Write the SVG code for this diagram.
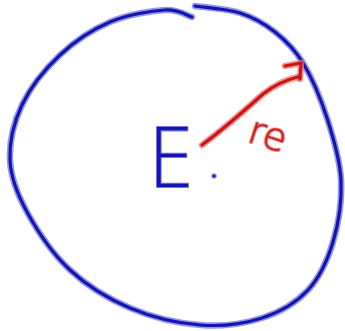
<svg xmlns="http://www.w3.org/2000/svg" width="345" height="331" viewBox="0 0 345 331">
<style>
.halo-b{fill:none;stroke:#7777e0;stroke-width:6.5;stroke-linecap:round;stroke-linejoin:round;opacity:0.75}
.core-b{fill:none;stroke:#1414b0;stroke-width:3.2;stroke-linecap:round;stroke-linejoin:round}
.halo-r{fill:none;stroke:#e87a7a;stroke-width:6.5;stroke-linecap:round;stroke-linejoin:round;opacity:0.75}
.core-r{fill:none;stroke:#cc1414;stroke-width:3.2;stroke-linecap:round;stroke-linejoin:round}
.lbl-b{font-family:"DejaVu Sans","Liberation Sans",sans-serif;font-weight:200;fill:#1414b0;stroke:#7777e0;stroke-width:2.2;paint-order:stroke;stroke-linejoin:round}
.lbl-r{font-family:"DejaVu Sans","Liberation Sans",sans-serif;font-weight:200;fill:#cc1414;stroke:#e87a7a;stroke-width:2.2;paint-order:stroke;stroke-linejoin:round}
</style>
<rect width="345" height="331" fill="#ffffff"/>
<g id="sphere">
<path class="halo-b" d="M195,6 C202.5,7.2 226.7,8.7 240,13 C253.3,17.3 264.5,23.7 275,32 C285.5,40.3 294.3,48.7 303,63 C311.7,77.3 320.7,98.5 327,118 C333.3,137.5 340,159.3 341,180 C342,200.7 338.5,223.7 333,242 C327.5,260.3 319.8,277.3 308,290 C296.2,302.7 280,312.2 262,318 C244,323.8 222,326.7 200,325 C178,323.3 151.7,317.2 130,308 C108.3,298.8 87.2,286 70,270 C52.8,254 37,230.3 27,212 C17,193.7 10.8,177.8 10,160 C9.2,142.2 13.7,122.5 22,105 C30.3,87.5 45.3,68.8 60,55 C74.7,41.2 92.5,29.5 110,22 C127.5,14.5 151.3,10.8 165,10 C178.7,9.2 187.5,15.8 192,17"/>
<path class="core-b" d="M195,6 C202.5,7.2 226.7,8.7 240,13 C253.3,17.3 264.5,23.7 275,32 C285.5,40.3 294.3,48.7 303,63 C311.7,77.3 320.7,98.5 327,118 C333.3,137.5 340,159.3 341,180 C342,200.7 338.5,223.7 333,242 C327.5,260.3 319.8,277.3 308,290 C296.2,302.7 280,312.2 262,318 C244,323.8 222,326.7 200,325 C178,323.3 151.7,317.2 130,308 C108.3,298.8 87.2,286 70,270 C52.8,254 37,230.3 27,212 C17,193.7 10.8,177.8 10,160 C9.2,142.2 13.7,122.5 22,105 C30.3,87.5 45.3,68.8 60,55 C74.7,41.2 92.5,29.5 110,22 C127.5,14.5 151.3,10.8 165,10 C178.7,9.2 187.5,15.8 192,17"/>
</g>
<g id="center">
<circle cx="214" cy="176" r="2.8" fill="#7777e0" opacity="0.75"/>
<circle cx="214" cy="176" r="1.6" fill="#1414b0"/>
</g>
<g id="label-E">
<text class="lbl-b" x="0" y="0" font-size="82" transform="translate(148,187) scale(0.9,1)">E</text>
</g>
<g id="connectors">
<path class="halo-r" d="M202,145 C225,128 245,110 263,94 C272,87 285,80 298,77"/>
<path class="halo-r" d="M285,66 L301,63 L300,79"/>
<path class="core-r" d="M202,145 C225,128 245,110 263,94 C272,87 285,80 298,77"/>
<path class="core-r" d="M285,66 L301,63 L300,79"/>
</g>
<g id="label-re">
<text class="lbl-r" x="0" y="0" font-size="38" transform="translate(246,141) rotate(18)">re</text>
</g>
</svg>
